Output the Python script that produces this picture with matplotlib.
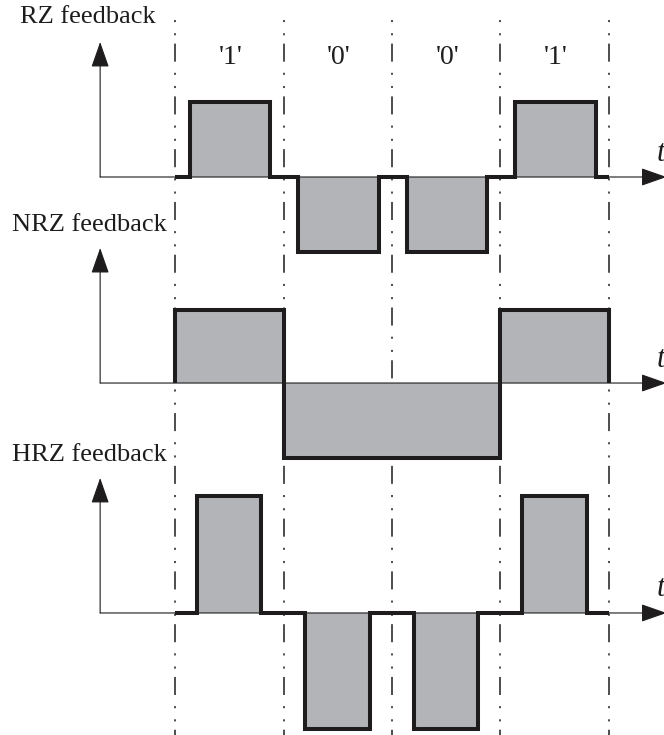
import numpy as np
import matplotlib
matplotlib.use("Agg")
import matplotlib.pyplot as plt

plt.rcParams['font.family'] = 'serif'
plt.rcParams['font.serif'] = ['Liberation Serif', 'DejaVu Serif']
plt.rcParams['lines.scale_dashes'] = False

# data
bits = [1, 0, 0, 1]
bit_labels = ["'1'", "'0'", "'0'", "'1'"]
panel_names = ["RZ feedback", "NRZ feedback", "HRZ feedback"]
# pulse start / end inside one bit period (fraction of T)
rz_pulse = (0.135, 0.88)
hrz_pulse = (0.20, 0.795)
# pulse heights (positive level, negative level)
rz_amp = (1.0, 1.0)
nrz_amp = (0.97, 1.0)
hrz_amp = (1.56, 1.55)

# layout (one unit of y = 75 px, one unit of x = one bit period)
baselines = [7.44, 4.693, 1.627]
label_pos = [(-1.43, 9.573), (-1.50, 6.80), (-1.50, 3.733)]
axis_x = -0.69
arrow_h = 1.8
t_end = 4.53

fill_c = '#b3b4b8'
line_c = '#1e1c1d'


def level(b, amp):
    return amp[0] if b == 1 else -amp[1]


def rz_wave(bits, pulse, amp):
    t, y = [0.0], [0.0]
    for i, b in enumerate(bits):
        t += [i + pulse[0], i + pulse[1]]
        y += [level(b, amp), 0.0]
    t.append(len(bits))
    y.append(0.0)
    return np.array(t), np.array(y)


def nrz_wave(bits, amp):
    t = [0.0] + list(range(len(bits))) + [len(bits), len(bits)]
    lv = [level(b, amp) for b in bits]
    y = [0.0] + lv + [lv[-1], 0.0]
    return np.array(t, dtype=float), np.array(y)


waves = [rz_wave(bits, rz_pulse, rz_amp),
         nrz_wave(bits, nrz_amp),
         rz_wave(bits, hrz_pulse, hrz_amp)]

fig = plt.figure(figsize=(6.64, 7.35), dpi=100)
ax = fig.add_axes([0, 0, 1, 1])
ax.set_xlim(-1.613, 4.507)
ax.set_ylim(0, 9.8)
ax.axis('off')

arrow_props = dict(arrowstyle='-|>,head_length=0.8,head_width=0.28',
                   color=line_c, lw=0.8, mutation_scale=20,
                   shrinkA=0, shrinkB=0)

# bit boundaries
for k in range(len(bits) + 1):
    ax.plot([k, k], [9.533, 0], color=line_c, lw=1.1,
            linestyle=(0, (1.5, 8, 1.5, 6, 13, 8)), zorder=1)

for base, (t, y), name, lp in zip(baselines, waves, panel_names, label_pos):
    ax.fill_between(t, base, base + y, step='post', color=fill_c, lw=0, zorder=2)
    # axes with arrows
    ax.annotate('', xy=(t_end, base), xytext=(axis_x, base),
                arrowprops=arrow_props, annotation_clip=False, zorder=3)
    ax.annotate('', xy=(axis_x, base + arrow_h), xytext=(axis_x, base),
                arrowprops=arrow_props, annotation_clip=False, zorder=3)
    ax.plot(t, base + y, drawstyle='steps-post', color=line_c, lw=2.9,
            solid_joinstyle='miter', solid_capstyle='butt', zorder=4)
    ax.text(lp[0], lp[1], name, fontsize=19, color=line_c, ha='left', va='center')
    ax.text(4.44, base + 0.32, 't', fontsize=22, style='italic', color=line_c,
            ha='left', va='center')

for i, lab in enumerate(bit_labels):
    ax.text(i + 0.51, 9.04, lab, fontsize=20, color=line_c, ha='center', va='center')

fig.savefig('out.png', dpi=100)
